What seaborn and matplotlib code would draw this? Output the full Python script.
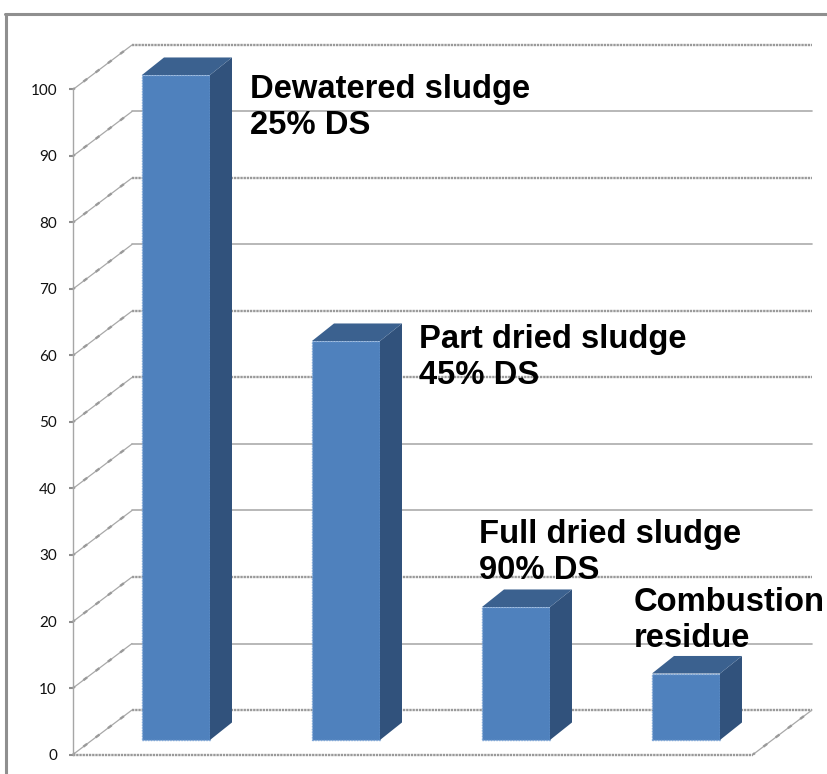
import matplotlib
matplotlib.use("Agg")
import matplotlib.pyplot as plt
import seaborn as sns
import pandas as pd
from matplotlib.lines import Line2D
from matplotlib.patches import Polygon

categories = ["Dewatered sludge", "Part dried sludge", "Full dried sludge", "Combustion residue"]
values = [100, 60, 20, 10]
y_ticks = [0, 10, 20, 30, 40, 50, 60, 70, 80, 90, 100]
label_lines = [
    "Dewatered sludge\n25% DS",
    "Part dried sludge\n45% DS",
    "Full dried sludge\n90% DS",
    "Combustion\nresidue",
]

W, H, DPI = 828, 774, 100
sns.set_theme(style="white")
plt.rcParams["font.family"] = ["Liberation Sans", "DejaVu Sans"]
fig = plt.figure(figsize=(W / DPI, H / DPI), dpi=DPI, facecolor="white")


def axes_px(x0, x1, y_top, y_bot):
    return fig.add_axes([x0 / W, 1 - y_bot / H, (x1 - x0) / W, (y_bot - y_top) / H])


# Frame of the pasted chart
frame = "#8f8f8f"
fig.add_artist(Line2D([6.5 / W, 6.5 / W], [0, 1 - 13.5 / H], color=frame, lw=2.2))
fig.add_artist(Line2D([5.5 / W, 1], [1 - 13.5 / H, 1 - 13.5 / H], color=frame, lw=2.2))

# Axis plane: y=0 at 754.5 px, y=100 at 89.5 px, four 170 px wide slots
ax = axes_px(73, 753, 89.5, 754.5)
ax.set_xlim(-0.5, 3.5)
ax.set_ylim(0, 100)
ax.patch.set_alpha(0)
for s in ax.spines.values():
    s.set_visible(False)
ax.spines["left"].set_visible(True)
ax.spines["left"].set_color("#a6a6a6")
ax.spines["left"].set_linewidth(1.0)
ax.set_xticks([])
ax.set_yticks(y_ticks)
ax.tick_params(axis="y", length=3, width=1.5, color="#8f8f8f", labelsize=11,
               labelcolor="#111111", pad=8.5, left=True)
for t in ax.get_yticklabels():
    t.set_fontfamily("Lato")

# Perspective depth of the walls in data units
DX = 59 / 170
DY = 44.5 / 6.65
dotted = {0, 20, 50, 60, 80, 100}
x0, x1 = ax.get_xlim()
for v in y_ticks:
    heavy = v in dotted
    ax.plot([x0 + DX, x1 + DX], [v + DY, v + DY], color="#9a9a9a" if heavy else "#ababab",
            lw=1.7 if heavy else 1.2, ls=(0, (1, 0.35)) if heavy else "-", clip_on=False, zorder=1)
    ax.plot([x0, x0 + DX], [v, v + DY], color="#a8a8a8", lw=0.9, clip_on=False, zorder=1)
    ax.plot([x0, x0 + DX], [v, v + DY], color="#9a9a9a", lw=1.7, ls=(1, (2, 4.5)),
            clip_on=False, zorder=1)
# floor
ax.plot([x0, x1], [0, 0], color="#9a9a9a", lw=1.7, ls=(0, (1, 0.35)), clip_on=False, zorder=1)
ax.plot([x1, x1 + DX], [0, DY], color="#a8a8a8", lw=0.9, clip_on=False, zorder=1)
ax.plot([x1, x1 + DX], [0, DY], color="#9a9a9a", lw=1.7, ls=(1, (2, 4.5)), clip_on=False, zorder=1)

# Bars plane: same scale, moved 18 px right and 14.5 px up
bx = axes_px(73 + 18, 753 + 18, 89.5 - 14.5, 754.5 - 14.5)
bx.patch.set_alpha(0)
df = pd.DataFrame({"category": categories, "value": values})
sns.barplot(data=df, x="category", y="value", color="#4f81bd", saturation=1, width=0.4,
            ax=bx, zorder=3, linewidth=0)
bx.set_xlim(-0.5, 3.5)
bx.set_ylim(0, 100)
bx.axis("off")

# Extruded faces, derived from each bar drawn above
ddx = 22 / 170
ddy = 17.5 / 6.64
for p in list(bx.patches):
    l, r, h = p.get_x(), p.get_x() + p.get_width(), p.get_height()
    p.set_edgecolor("#7fa6d6")
    p.set_linewidth(1.0)
    p.set_linestyle((0, (1, 1)))
    p.set_clip_on(False)
    bx.add_patch(Polygon([(r, 0), (r + ddx, ddy), (r + ddx, h + ddy), (r, h)], closed=True,
                         fc="#31527c", ec="none", clip_on=False, zorder=3.5))
    bx.add_patch(Polygon([(l, h), (l + ddx, h + ddy), (r + ddx, h + ddy), (r, h)], closed=True,
                         fc="#3b618f", ec="none", clip_on=False, zorder=3.5))

# Hand-placed bold labels
label_xy = [(250, 87), (419, 337), (479, 532), (634, 600)]
for txt, (px, py) in zip(label_lines, label_xy):
    fig.text(px / W, 1 - (py - 13) / H, txt, fontsize=23.6, fontweight="bold", color="black",
             va="top", ha="left", linespacing=1.2, family="Liberation Sans", zorder=10)

fig.savefig("out.png", dpi=DPI)
